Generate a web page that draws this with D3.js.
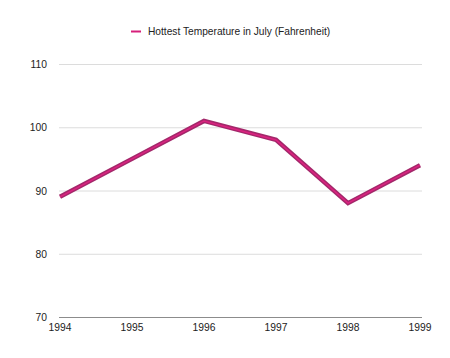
<!DOCTYPE html>
<html><head><meta charset="utf-8">
<script src="https://cdn.jsdelivr.net/npm/d3@7"></script>
<style>body{margin:0;background:#fff;}svg{display:block;font-family:"Liberation Sans",Arial,sans-serif;}</style>
</head><body>
<script>
const years = [1994, 1995, 1996, 1997, 1998, 1999];
const temps = [89, 95, 101, 98, 88, 94];
const yTicks = [70, 80, 90, 100, 110];
const seriesName = "Hottest Temperature in July (Fahrenheit)";

const W = 450, H = 358;
const svg = d3.select("body").append("svg").attr("width", W).attr("height", H);
const x = d3.scaleLinear().domain([1994, 1999]).range([60, 420]);
const y = d3.scaleLinear().domain([70, 110]).range([317, 64]);

svg.append("g").selectAll("line").data(yTicks).join("line")
  .attr("x1", 59).attr("x2", 422)
  .attr("y1", d => y(d) + 0.5).attr("y2", d => y(d) + 0.5)
  .attr("stroke", d => d === 70 ? "#8c8c8c" : "#dcdcdc").attr("stroke-width", 1);

svg.append("g").selectAll("text").data(yTicks).join("text")
  .attr("x", 47).attr("y", d => y(d) + 4)
  .attr("text-anchor", "end").attr("font-size", 10.3).attr("fill", "#222")
  .text(d => d);

svg.append("g").selectAll("text").data(years).join("text")
  .attr("x", d => x(d)).attr("y", 331)
  .attr("text-anchor", "middle").attr("font-size", 10.3).attr("fill", "#222")
  .text(d => d);

const data = years.map((yr, i) => [yr, temps[i]]);
const line = d3.line().x(d => x(d[0])).y(d => y(d[1]));
svg.append("path").datum(data).attr("d", line)
  .attr("fill", "none").attr("stroke", "#a3286a").attr("stroke-width", 4.5)
  .attr("stroke-linejoin", "miter");
svg.append("path").datum(data).attr("d", line)
  .attr("fill", "none").attr("stroke", "#dc2280").attr("stroke-width", 1.5)
  .attr("stroke-linejoin", "miter");

svg.append("line").attr("x1", 131).attr("x2", 141).attr("y1", 31.5).attr("y2", 31.5)
  .attr("stroke", "#d61f7a").attr("stroke-width", 2);
svg.append("text").attr("x", 148).attr("y", 35).attr("font-size", 10.2).attr("fill", "#222")
  .text(seriesName);
</script>
</body></html>
